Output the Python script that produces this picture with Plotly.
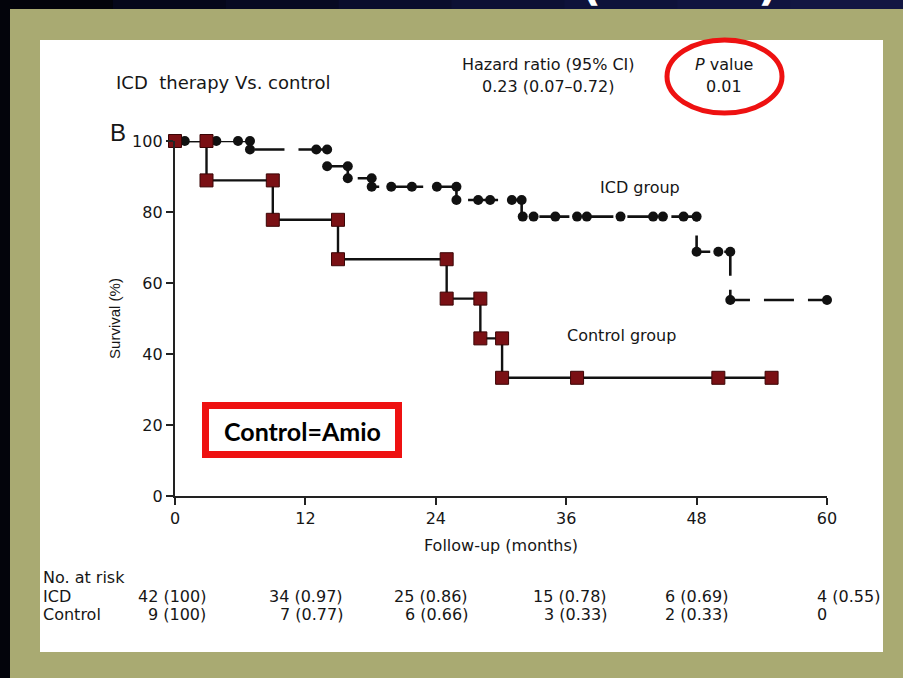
import plotly.graph_objects as go

# ---------------- data ----------------
icd_time = [0, 7.0, 14.0, 15.9, 18.1, 25.9, 31.9, 48.0, 51.1, 60.0]
icd_surv = [100, 97.6, 92.9, 89.5, 87.1, 83.4, 78.7, 68.8, 55.2, 55.2]

icd_cens_t = [0.9, 3.8, 5.8, 6.9, 6.9, 13.0, 14.0, 14.0, 15.9, 15.9, 18.1, 18.1,
              19.9, 21.8, 24.1, 25.9, 25.9, 27.9, 29.0, 31.0, 31.9, 32.0, 33.0,
              35.0, 37.0, 37.9, 41.0, 44.0, 44.9, 46.8, 48.0, 48.0, 50.0, 51.1,
              51.1, 60.0]
icd_cens_s = [100, 100, 100, 100, 97.6, 97.6, 97.6, 92.9, 92.9, 89.5, 89.5, 87.1,
              87.1, 87.1, 87.1, 87.1, 83.4, 83.4, 83.4, 83.4, 83.4, 78.7, 78.7,
              78.7, 78.7, 78.7, 78.7, 78.7, 78.7, 78.7, 78.7, 68.8, 68.8, 68.8,
              55.2, 55.2]

ctrl_time = [0, 2.9, 9.0, 15.0, 25.0, 28.1, 30.1, 54.9]
ctrl_surv = [100, 88.9, 77.8, 66.7, 55.6, 44.4, 33.3, 33.3]

ctrl_mark_t = [0, 2.9, 2.9, 9.0, 9.0, 15.0, 15.0, 25.0, 25.0, 28.1, 28.1, 30.1,
               30.1, 37.0, 50.0, 54.9]
ctrl_mark_s = [100, 100, 88.9, 88.9, 77.8, 77.8, 66.7, 66.7, 55.6, 55.6, 44.4,
               44.4, 33.3, 33.3, 33.3, 33.3]

x_ticks = [0, 12, 24, 36, 48, 60]
y_ticks = [0, 20, 40, 60, 80, 100]

risk_rows = ["ICD", "Control"]
icd_risk = ["42 (100)", "34 (0.97)", "25 (0.86)", "15 (0.78)", "6 (0.69)", "4 (0.55)"]
ctrl_risk = ["9 (100)", "7 (0.77)", "6 (0.66)", "3 (0.33)", "2 (0.33)", "0"]

# ---------------- layout helpers ----------------
W, H = 903, 678
L, R, T, B = 175, 827, 141, 496
FONT = "DejaVu Sans"
TXT = "#161616"


def fx(px):
    return (px - L) / (R - L)


def fy(py):
    return (B - py) / (B - T)


annotations = []


def ann(text, px, py, size=16, xanchor="center", family=FONT, color=TXT, yanchor="middle", weight=None):
    font = dict(family=family, size=size, color=color)
    if weight:
        font["weight"] = weight
    annotations.append(dict(text=text, x=fx(px), y=fy(py), xref="paper", yref="paper",
                            xanchor=xanchor, yanchor=yanchor, showarrow=False, font=font))


shapes = []


def rect(x0, y0, x1, y1, fill, line_color=None, lw=0, kind="rect"):
    shapes.append(dict(type=kind, xref="paper", yref="paper",
                       x0=fx(x0), x1=fx(x1), y0=fy(y1), y1=fy(y0),
                       fillcolor=fill, layer="below",
                       line=dict(color=line_color or "rgba(0,0,0,0)", width=lw)))


# background gradient strip at the top (navy)
top_cols = ["#03040b", "#05071a", "#070a22", "#0a0d2c", "#0c1034", "#0e123a", "#10143f", "#121642"]
n = len(top_cols)
for i, c in enumerate(top_cols):
    rect(i * W / n, 0, (i + 1) * W / n + 1, 10, c)
rect(0, 0, 10, H, "#03040b")
# olive frame and white panel
rect(10, 9, W, H, "#a9aa72")
rect(40, 40, 883, 652, "#ffffff")
# red ellipse around P value
rect(667, 40, 782, 113, "rgba(0,0,0,0)", "#ee1111", 5, kind="circle")
# red box
rect(205.5, 405.5, 398.5, 454.5, "#ffffff", "#ee1111", 7)

# partially visible slide title
ann("(", 591, 12, size=44, color="#ffffff", yanchor="bottom", weight="bold")
ann(")", 768, 12, size=44, color="#ffffff", yanchor="bottom", weight="bold")

# header texts
ann("B", 118, 132, size=24, family="Liberation Sans")
ann("ICD  therapy Vs. control", 114, 82, size=18, xanchor="left")
ann("Hazard ratio (95% CI)", 548, 64, size=16)
ann("0.23 (0.07\u20130.72)", 548, 86, size=16)
ann("<i>P</i> value", 724, 64, size=16)
ann("0.01", 724, 86, size=16)
ann("ICD group", 640, 187, size=16)
ann("Control group", 621, 335, size=16)
ann("Control=Amio", 302, 431, size=25, family="Lato", color="#000000", weight="bold")

# number at risk table
ann("No. at risk", 41, 577, size=16, xanchor="left")
ann(risk_rows[0], 41, 596, size=16, xanchor="left")
ann(risk_rows[1], 41, 614, size=16, xanchor="left")
col_right = [208, 345, 470, 609, 730]
for i, xr in enumerate(col_right):
    ann(icd_risk[i], xr, 596, size=16, xanchor="right")
    ann(ctrl_risk[i], xr, 614, size=16, xanchor="right")
ann(icd_risk[5], 815, 596, size=16, xanchor="left")
ann(ctrl_risk[5], 815, 614, size=16, xanchor="left")

# ---------------- traces ----------------
fig = go.Figure()
fig.add_trace(go.Scatter(x=icd_time, y=icd_surv, mode="lines", line_shape="hv",
                         line=dict(color="#111111", width=2.6, dash="30px,14px"),
                         cliponaxis=False, showlegend=False, hoverinfo="skip"))
fig.add_trace(go.Scatter(x=icd_cens_t, y=icd_cens_s, mode="markers",
                         marker=dict(symbol="circle", size=10, color="#111111"),
                         cliponaxis=False, showlegend=False))
fig.add_trace(go.Scatter(x=ctrl_time, y=ctrl_surv, mode="lines", line_shape="hv",
                         line=dict(color="#111111", width=2.4),
                         cliponaxis=False, showlegend=False, hoverinfo="skip"))
fig.add_trace(go.Scatter(x=ctrl_mark_t, y=ctrl_mark_s, mode="markers",
                         marker=dict(symbol="square", size=13, color="#7a1014",
                                     line=dict(color="#3a0505", width=1)),
                         cliponaxis=False, showlegend=False))

axis_common = dict(showgrid=False, zeroline=False, showline=True, linecolor="#222222",
                   linewidth=2.4, ticks="outside", ticklen=7, tickwidth=2.2,
                   tickcolor="#222222", tickfont=dict(family=FONT, size=16, color=TXT))

fig.update_layout(
    width=W, height=H,
    margin=dict(l=L, r=W - R, t=T, b=H - B, pad=0),
    paper_bgcolor="#0b0e28",
    plot_bgcolor="rgba(0,0,0,0)",
    shapes=shapes,
    annotations=annotations,
    xaxis=dict(range=[0, 60], tickvals=x_ticks, ticktext=[str(v) for v in x_ticks],
               title=dict(text="Follow-up (months)", standoff=12,
                          font=dict(family=FONT, size=16, color=TXT)),
               **axis_common),
    yaxis=dict(range=[0, 100], tickvals=y_ticks, ticktext=[str(v) for v in y_ticks],
               title=dict(text="Survival (%)", standoff=8,
                          font=dict(family="Liberation Sans", size=15, color=TXT)),
               **axis_common),
)

fig.write_html(
    "out.html",
    config={"displayModeBar": False},
    post_script="document.body.style.margin='0';document.body.style.overflow='hidden';"
                "document.body.style.background='#0b0e28';",
)
